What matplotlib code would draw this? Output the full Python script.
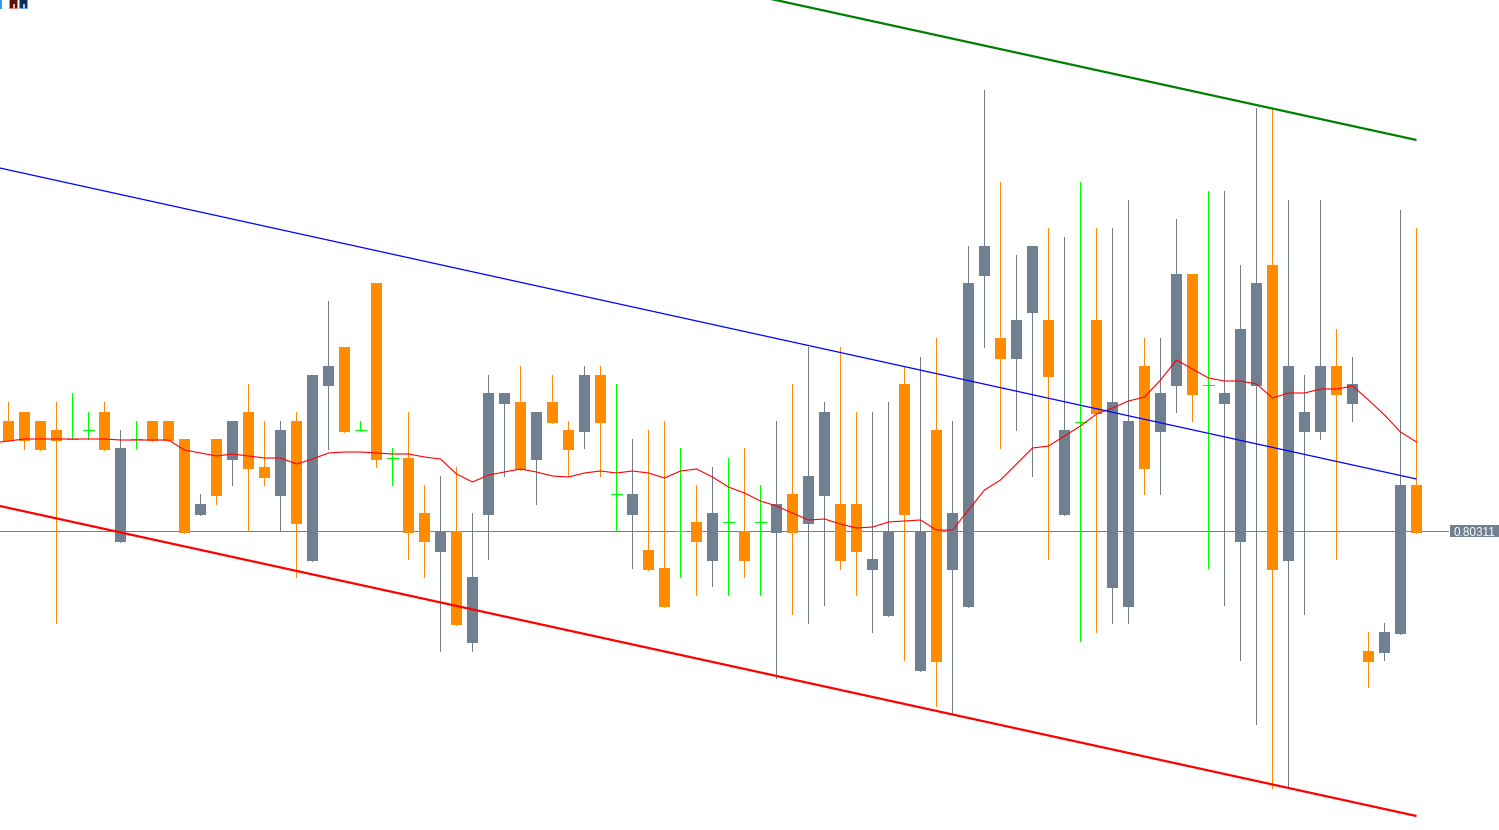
import matplotlib
matplotlib.use("Agg")
import matplotlib.pyplot as plt
from matplotlib.patches import Rectangle
import numpy as np

# Quotes in points above BASE (1 point = 0.00001)
BASE = 0.75221
POINT = 1e-5

open_pts = [5200,5209,5200,5191,5182,5191,5209,5079,5182,5200,5200,5182,5106,5182,5161,5209,5154,5125,5200,5060,
            5235,5274,5191,5338,5163,5163,5108,5069,5090,4978,5106,5217,5219,5161,5219,5191,5189,5246,5127,5106,
            5071,5053,5090,5099,5060,5099,5090,5099,5088,5127,5097,5125,5117,5117,5051,5005,5237,4950,5191,5051,
            5014,5345,5283,5262,5308,5301,5106,5199,5301,5033,5014,5255,5189,5235,5347,5236,5217,5079,5235,5356,
            5060,5189,5189,5255,5217,4970,4968,4987,5136]
close_pts = [5180,5180,5171,5180,5182,5191,5171,5173,5182,5180,5180,5088,5117,5125,5200,5152,5143,5191,5097,5246,
             5255,5189,5191,5161,5163,5088,5079,5090,4996,5044,5228,5228,5151,5209,5198,5171,5246,5198,5127,5127,
             5051,5014,5090,5079,5108,5099,5060,5099,5117,5088,5145,5209,5060,5069,5062,5090,5106,5090,4959,5108,
             5338,5375,5262,5301,5375,5244,5191,5199,5207,5219,5200,5152,5228,5347,5226,5236,5228,5292,5338,5051,
             5255,5209,5255,5226,5237,4959,4989,5136,5088]
high_pts = [5219,5209,5200,5219,5228,5209,5219,5191,5200,5200,5200,5182,5127,5182,5200,5237,5200,5200,5209,5246,
            5320,5274,5200,5338,5173,5209,5136,5145,5154,5108,5246,5228,5255,5209,5246,5200,5255,5255,5237,5182,
            5191,5200,5173,5136,5154,5163,5173,5136,5200,5237,5274,5219,5274,5209,5209,5219,5255,5264,5283,5200,
            5375,5531,5439,5366,5375,5393,5384,5439,5393,5393,5421,5283,5283,5402,5347,5430,5430,5356,5513,5513,
            5421,5246,5421,5292,5264,4989,4998,5411,5393]
low_pts = [5180,5172,5171,4998,5182,5182,5171,5079,5173,5180,5180,5088,5106,5117,5136,5090,5136,5090,5044,5060,
           5172,5189,5191,5154,5136,5062,5044,4970,4996,4970,5062,5145,5151,5117,5198,5145,5173,5145,5090,5053,
           5051,5014,5044,5026,5035,5026,5044,5026,4943,5007,4998,5016,5052,5026,4989,5005,4961,4950,4915,4907,
           5014,5274,5173,5191,5145,5062,5106,4980,4989,4998,4998,5127,5127,5209,5200,5053,5016,4961,4897,4833,
           4834,5007,5182,5062,5200,4934,4961,4987,5088]
ma_pts = [5178,
          5180,5182,5182,5182,5182,5182,5182,5181,5181,5181,5181,5171,5168,5165,5167,5165,5163,5163,5157,5162,
          5168,5169,5169,5168,5167,5167,5164,5162,5147,5139,5146,5149,5152,5149,5145,5144,5148,5150,5148,5150,
          5148,5143,5150,5152,5144,5134,5128,5120,5115,5108,5101,5102,5097,5093,5094,5099,5100,5101,5091,5091,
          5111,5131,5141,5157,5173,5175,5185,5195,5207,5213,5220,5224,5241,5261,5252,5243,5240,5240,5237,5223,
          5228,5228,5232,5232,5235,5221,5206,5189,5179]

# Trend lines: (bar index, points)
green_bars, green_pts = [47, 88], [5624.3, 5481]
blue_bars, blue_pts = [-1, 88], [5454.6, 5142]
red_bars, red_pts = [-1, 88], [5116.6, 4805]

last_price = 0.80311
last_label = "0.80311"

UP = "#708090"
DOWN = "#FF8C00"
DOJI = "#00FF00"


def price(values):
    return BASE + np.asarray(values, dtype=float) * POINT


W, H = 1499, 830
fig = plt.figure(figsize=(W / 100, H / 100), dpi=100, facecolor="white")
ax = fig.add_axes([0, 0, 1, 1])
ax.axis("off")

STEP = 16.0
ax.set_xlim(-8.5 / STEP, (W - 8.5) / STEP)
ax.set_ylim(price(5621 - H), price(5621))

o, c, h, l = map(price, (open_pts, close_pts, high_pts, low_pts))
bars = np.arange(len(o))
colors = [UP if b > a else DOWN if b < a else DOJI for a, b in zip(o, c)]
body_w = 11 / STEP
px = 0.72

ax.hlines(last_price + 0.2 * POINT, ax.get_xlim()[0], (1448 - 8.5) / STEP, color=UP, lw=px, zorder=1,
          antialiased=False)
ax.vlines(bars, l, h, colors=colors, lw=px, zorder=2, antialiased=False)

for i, (a, b, col) in enumerate(zip(o, c, colors)):
    if a == b:
        ax.hlines(a, i - body_w / 2, i + body_w / 2, color=col, lw=px, zorder=2, antialiased=False)
    else:
        ax.bar(i, abs(b - a), bottom=min(a, b), width=body_w, color=col, lw=0, zorder=2, antialiased=False)

ax.plot(np.arange(-1, len(o)), price(ma_pts), color="#FF0000", lw=0.8, zorder=3)
ax.plot(green_bars, price(green_pts), color="#008000", lw=1.6, zorder=3, solid_capstyle="butt")
ax.plot(blue_bars, price(blue_pts), color="#0000FF", lw=0.9, zorder=3, solid_capstyle="butt")
ax.plot(red_bars, price(red_pts), color="#FF0000", lw=1.6, zorder=3, solid_capstyle="butt")

# Last-price tag
x0 = (1450 - 8.5) / STEP
ax.add_patch(Rectangle((x0, last_price - 6 * POINT), 49 / STEP, 12 * POINT, fc=UP, ec="none", zorder=4))
ax.text((1474.5 - 8.5) / STEP, last_price, last_label, color="#FFFFFF", fontsize=8.5,
        family="Liberation Sans", ha="center", va="center_baseline", zorder=5)

# Terminal toolbar glyphs clipped at the top-left corner
def box(x, y, w, h_, col):
    fig.add_artist(Rectangle((x / W, 1 - (y + h_) / H), w / W, h_ / H, transform=fig.transFigure,
                             fc=col, ec="none", antialiased=False))

box(0, 0, 2, 9, "#2E9BFF")
box(9, 0, 9, 9, "#F08080")
box(10, 0, 7, 8, "#5A1408")
box(13, 4, 2, 4, "#F4B0A0")
box(19, 0, 9, 9, "#66AAF0")
box(20, 0, 7, 8, "#0A2F5C")
box(23, 4, 2, 4, "#A8CCF4")

fig.savefig("out.png", dpi=100, facecolor="white")
